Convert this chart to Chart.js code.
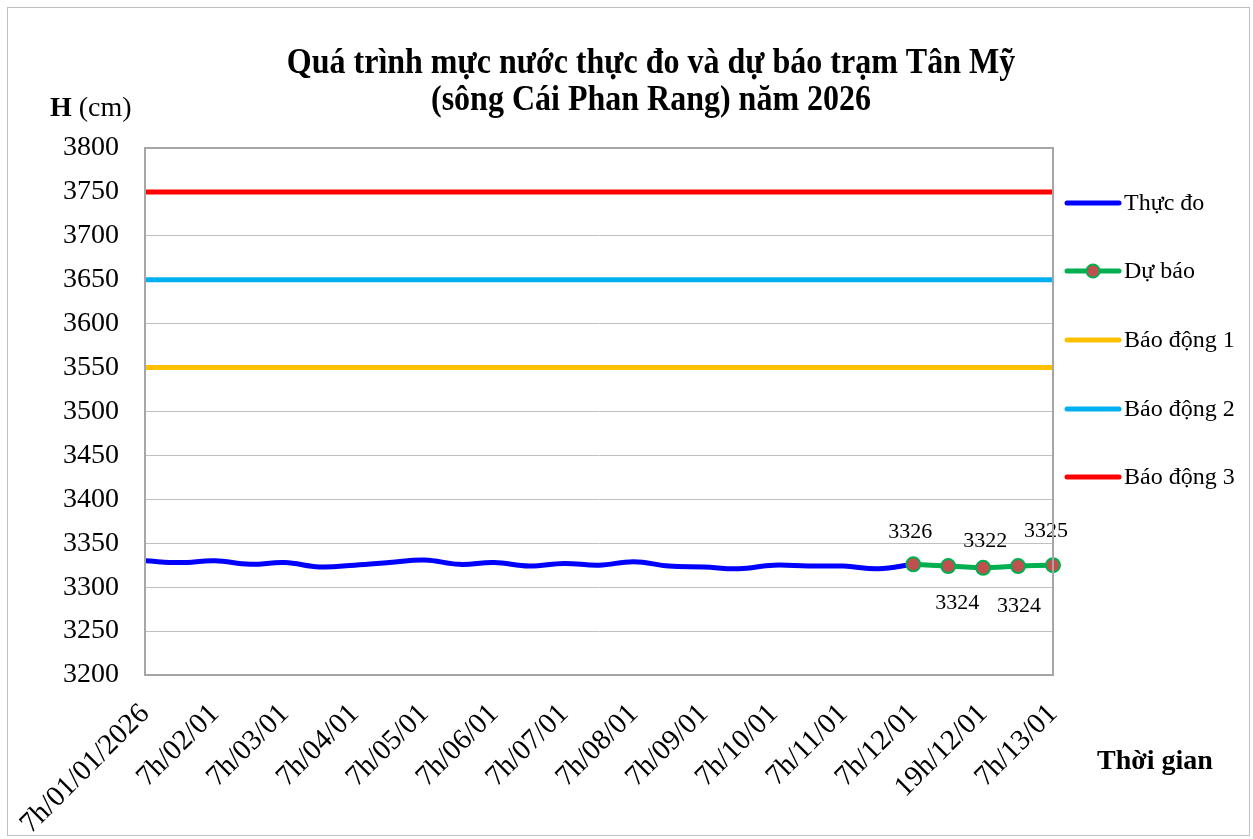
<!DOCTYPE html>
<html lang="vi">
<head>
<meta charset="utf-8">
<title>Mực nước trạm Tân Mỹ</title>
<script src="https://cdn.jsdelivr.net/npm/chart.js@4.4.1/dist/chart.umd.min.js"></script>
<style>
  html, body { margin: 0; padding: 0; background: #fff; }
  #wrap { position: relative; width: 1253px; height: 839px; }
</style>
</head>
<body>
<div id="wrap"><canvas id="chart" width="1253" height="839"></canvas></div>
<script>
// ── DATA ─────────────────────────────────────────────────────
// time steps: 7h and 19h each day, then every 6h for the forecast
const categories = [
  "7h/01/01/2026", "19h/01/01", "7h/02/01", "19h/02/01", "7h/03/01", "19h/03/01",
  "7h/04/01", "19h/04/01", "7h/05/01", "19h/05/01", "7h/06/01", "19h/06/01",
  "7h/07/01", "19h/07/01", "7h/08/01", "19h/08/01", "7h/09/01", "19h/09/01",
  "7h/10/01", "19h/10/01", "7h/11/01", "19h/11/01", "7h/12/01",
  "13h/12/01", "19h/12/01", "1h/13/01", "7h/13/01"
];

const observed = [
  3330, 3328, 3330, 3326, 3328, 3323, 3325, 3328, 3331, 3326, 3328, 3324,
  3327, 3325, 3329, 3324, 3323, 3321, 3325, 3324, 3324, 3321, 3326,
  null, null, null, null
];

const forecast = [
  null, null, null, null, null, null, null, null, null, null, null, null,
  null, null, null, null, null, null, null, null, null, null,
  3326, 3324, 3322, 3324, 3325
];

const alarmLevels = [3550, 3650, 3750];   // Báo động 1, 2, 3

const yTicks = { min: 3200, max: 3800, step: 50 };

// ── STYLE ────────────────────────────────────────────────────
const SERIF = "'Liberation Serif', 'Times New Roman', serif";
const alarmColors = ["#FFC000", "#00B0F0", "#FF0000"];

// where each forecast label sits relative to its point
const labelOffsets = [[-3, -32], [9, 37], [2, -27], [1, 40], [-7, -34]];

// ── PLUGINS ──────────────────────────────────────────────────
function stretchedText(ctx, text, x, y, sy) {
  ctx.save();
  ctx.translate(x, y);
  ctx.scale(1, sy);
  ctx.fillText(text, 0, 0);
  ctx.restore();
}

const decorPlugin = {
  id: "decor",
  beforeDraw(chart) {
    const ctx = chart.ctx;
    ctx.save();
    ctx.fillStyle = "#fff";
    ctx.fillRect(0, 0, chart.width, chart.height);
    ctx.strokeStyle = "#bfbfbf";
    ctx.lineWidth = 1;
    ctx.strokeRect(7.5, 7.5, 1242, 828);
    ctx.restore();
  },
  afterDraw(chart) {
    const ctx = chart.ctx;
    const a = chart.chartArea;
    ctx.save();
    // plot area frame
    ctx.strokeStyle = "#a6a6a6";
    ctx.lineWidth = 2;
    ctx.strokeRect(a.left, a.top, a.right - a.left, a.bottom - a.top);

    // title (the source font is a little taller than Liberation Serif)
    ctx.fillStyle = "#000";
    ctx.textAlign = "center";
    ctx.textBaseline = "middle";
    ctx.font = "bold 32px " + SERIF;
    stretchedText(ctx, "Quá trình mực nước thực đo và dự báo trạm Tân Mỹ", 651, 64, 1.12);
    stretchedText(ctx, "(sông Cái Phan Rang) năm 2026", 651, 101, 1.12);

    // y axis unit
    ctx.textAlign = "left";
    ctx.font = "bold 28px " + SERIF;
    ctx.fillText("H", 50, 109);
    const hw = ctx.measureText("H ").width;
    ctx.font = "28px " + SERIF;
    ctx.fillText("(cm)", 50 + hw, 109);

    // x axis title
    ctx.textAlign = "center";
    ctx.font = "bold 28px " + SERIF;
    ctx.fillText("Thời gian", 1155, 762);

    // legend
    const rows = [203, 271, 340, 409, 477];
    ctx.font = "24px " + SERIF;
    ctx.textAlign = "left";
    chart.data.datasets.forEach((ds, i) => {
      const y = rows[i];
      ctx.strokeStyle = ds.borderColor;
      ctx.lineWidth = 5;
      ctx.lineCap = "round";
      ctx.beginPath();
      ctx.moveTo(1067, y);
      ctx.lineTo(1119, y);
      ctx.stroke();
      if (ds.pointRadius > 0) {
        ctx.beginPath();
        ctx.arc(1093, y, 6.5, 0, Math.PI * 2);
        ctx.fillStyle = ds.pointBackgroundColor;
        ctx.fill();
        ctx.lineWidth = 2;
        ctx.strokeStyle = ds.pointBorderColor;
        ctx.stroke();
      }
      ctx.fillStyle = "#000";
      ctx.fillText(ds.label, 1124, y + 1);
    });
    ctx.restore();
  },
  afterDatasetsDraw(chart) {
    // value labels on the forecast points
    const ctx = chart.ctx;
    const meta = chart.getDatasetMeta(1);
    const data = chart.data.datasets[1].data;
    ctx.save();
    ctx.font = "22px " + SERIF;
    ctx.fillStyle = "#000";
    ctx.textAlign = "center";
    ctx.textBaseline = "middle";
    let k = 0;
    meta.data.forEach((pt, i) => {
      if (data[i] == null) return;
      const off = labelOffsets[k++] || [0, -30];
      ctx.fillText(String(data[i]), pt.x + off[0], pt.y + off[1]);
    });
    ctx.restore();
  }
};

// ── CHART ────────────────────────────────────────────────────
const datasets = [
  {
    label: "Thực đo",
    data: observed,
    borderColor: "#0000FF",
    backgroundColor: "#0000FF",
    borderWidth: 5,
    pointRadius: 0,
    tension: 0.4,
    order: 1
  },
  {
    label: "Dự báo",
    data: forecast,
    borderColor: "#00B050",
    backgroundColor: "#00B050",
    borderWidth: 5,
    pointRadius: 7,
    pointBackgroundColor: "#C0504D",
    pointBorderColor: "#00B050",
    pointBorderWidth: 2,
    tension: 0.2,
    order: 0
  }
].concat(alarmLevels.map((lvl, i) => ({
  label: "Báo động " + (i + 1),
  data: categories.map(() => lvl),
  borderColor: alarmColors[i],
  backgroundColor: alarmColors[i],
  borderWidth: 5,
  pointRadius: 0,
  order: 2
})));

new Chart(document.getElementById("chart"), {
  type: "line",
  data: { labels: categories, datasets },
  options: {
    responsive: false,
    animation: false,
    layout: { padding: { left: 0, top: 148, right: 200, bottom: 0 } },
    plugins: {
      legend: { display: false },
      title: { display: false },
      tooltip: { enabled: false }
    },
    scales: {
      x: {
        offset: false,
        grid: { display: false, drawTicks: false },
        border: { display: true, color: "#a6a6a6", width: 2 },
        ticks: {
          autoSkip: false,
          maxRotation: 45,
          minRotation: 45,
          padding: 22,
          color: "#000",
          font: { family: SERIF, size: 29 },
          callback: (v, i) => (i % 2 === 0 ? categories[i] : "")
        },
        afterFit: (s) => { s.height = 164; s.paddingLeft = 0; s.paddingRight = 0; }
      },
      y: {
        min: yTicks.min,
        max: yTicks.max,
        grid: { color: "#c0c0c0", lineWidth: 1, drawTicks: false },
        border: { display: true, color: "#a6a6a6", width: 2 },
        ticks: {
          stepSize: yTicks.step,
          padding: 26,
          color: "#000",
          font: { family: SERIF, size: 28 },
          callback: (v) => String(v)
        },
        afterFit: (s) => { s.width = 145; }
      }
    }
  },
  plugins: [decorPlugin]
});
</script>
</body>
</html>
